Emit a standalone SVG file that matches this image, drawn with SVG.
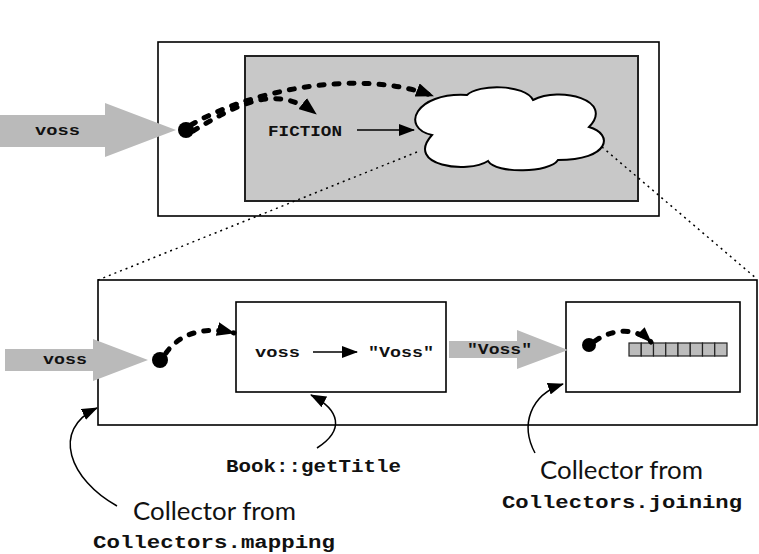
<svg xmlns="http://www.w3.org/2000/svg" width="759" height="554" viewBox="0 0 759 554">
<style>
.box{fill:#fff;stroke:#000;stroke-width:1.6}
.gbox{fill:#c8c8c8;stroke:#222;stroke-width:2}
.garrow{fill:#bababa}
.mono{font-family:"Liberation Mono","Courier New",monospace;font-weight:bold;fill:#111}
.sans{font-family:"Lato","Liberation Sans",sans-serif;fill:#111}
.dash{fill:none;stroke:#000;stroke-width:5;stroke-dasharray:5 10;stroke-linecap:round}
.thin{fill:none;stroke:#000;stroke-width:1.5}
.dot{stroke:#000;stroke-width:1.5;stroke-dasharray:2 4;fill:none}
.cell{fill:#bcbcbc;stroke:#222;stroke-width:1.2}
</style>
<defs>
<marker id="bigHead" markerUnits="userSpaceOnUse" markerWidth="20" markerHeight="14" refX="17" refY="7" orient="auto">
<path d="M0,0 L18,7 L0,14 z" fill="#000"/>
</marker>
<marker id="thinHead" markerUnits="userSpaceOnUse" markerWidth="16" markerHeight="12" refX="15" refY="6" orient="auto">
<path d="M0,0 L16,6 L0,12 z" fill="#000"/>
</marker>
</defs>
<rect width="759" height="554" fill="#fff"/>

<g id="top-outer"><rect class="box" x="158" y="42" width="501" height="174"/></g>
<g id="top-inner"><rect class="gbox" x="245" y="56" width="393" height="145"/></g>
<g id="cloud">
<path d="M432,135 C400,128 415,92 467,95 C478,84 525,84 533,100 C560,86 615,100 589,127 C614,134 610,160 558,160 C550,173 496,174 488,161 C468,174 404,166 432,135 Z" fill="#fff" stroke="#000" stroke-width="2"/>
</g>
<g id="top-voss">
<polygon class="garrow" points="0,115 105,115 105,103 176,130 105,157 105,147 0,147"/>
<text class="mono" x="35" y="135" font-size="15" textLength="45" lengthAdjust="spacingAndGlyphs">voss</text>
</g>
<g id="top-dot"><circle cx="186" cy="130" r="8" fill="#000"/></g>
<g id="fiction"><text class="mono" x="268" y="136" font-size="15" textLength="74" lengthAdjust="spacingAndGlyphs">FICTION</text></g>

<g id="bottom-outer"><rect class="box" x="98" y="280" width="659" height="145"/></g>
<g id="mapping-box"><rect class="box" x="236" y="302" width="210" height="90"/>
<text class="mono" x="255" y="357" font-size="15" textLength="45" lengthAdjust="spacingAndGlyphs">voss</text>
<text class="mono" x="368" y="357" font-size="15" textLength="66" lengthAdjust="spacingAndGlyphs">"Voss"</text>
</g>
<g id="joining-box"><rect class="box" x="566" y="302" width="174" height="90"/>
<circle cx="589" cy="345" r="7" fill="#000"/>
<g id="array">
<rect class="cell" x="629" y="343" width="12.25" height="13"/>
<rect class="cell" x="641.25" y="343" width="12.25" height="13"/>
<rect class="cell" x="653.5" y="343" width="12.25" height="13"/>
<rect class="cell" x="665.75" y="343" width="12.25" height="13"/>
<rect class="cell" x="678" y="343" width="12.25" height="13"/>
<rect class="cell" x="690.25" y="343" width="12.25" height="13"/>
<rect class="cell" x="702.5" y="343" width="12.25" height="13"/>
<rect class="cell" x="714.75" y="343" width="12.25" height="13"/>
</g>
</g>
<g id="bottom-voss">
<polygon class="garrow" points="5,349 93,349 93,339 148,360 93,381 93,371 5,371"/>
<text class="mono" x="43" y="364" font-size="15" textLength="44" lengthAdjust="spacingAndGlyphs">voss</text>
</g>
<g id="bottom-dot"><circle cx="160" cy="360" r="8" fill="#000"/></g>
<g id="voss-string">
<polygon class="garrow" points="449,341 517,341 517,330 568,350 517,369 517,358 449,358"/>
<text class="mono" x="467" y="354" font-size="15" textLength="65" lengthAdjust="spacingAndGlyphs">"Voss"</text>
</g>

<g id="labels">
<text class="mono" x="226" y="472" font-size="18" textLength="175" lengthAdjust="spacingAndGlyphs">Book::getTitle</text>
<text class="sans" x="133" y="520" font-size="25" textLength="163" lengthAdjust="spacingAndGlyphs">Collector from</text>
<text class="mono" x="93" y="548" font-size="18" textLength="242" lengthAdjust="spacingAndGlyphs">Collectors.mapping</text>
<text class="sans" x="540" y="479" font-size="25" textLength="163" lengthAdjust="spacingAndGlyphs">Collector from</text>
<text class="mono" x="502" y="508" font-size="18" textLength="240" lengthAdjust="spacingAndGlyphs">Collectors.joining</text>
</g>

<g id="connectors">
<path class="dash" d="M191,125 C250,90 360,68 433,96" marker-end="url(#bigHead)"/>
<path class="dash" d="M193,131 C235,106 275,82 316,114" marker-end="url(#bigHead)"/>
<line class="thin" x1="357" y1="130" x2="414" y2="130" marker-end="url(#thinHead)"/>
<path class="dot" d="M417,152 L98,280"/>
<path class="dot" d="M602,147 L757,279"/>
<path class="dash" d="M166,353 C180,333 205,326 234,333" marker-end="url(#bigHead)"/>
<line class="thin" x1="313" y1="352" x2="357" y2="352" marker-end="url(#thinHead)"/>
<path class="dash" stroke-width="4" d="M595,341 C610,330 635,326 651,342" marker-end="url(#thinHead)"/>
<path class="thin" d="M117,506 C70,480 50,430 97,408" marker-end="url(#thinHead)"/>
<path class="thin" d="M317,448 C345,430 340,410 311,395" marker-end="url(#thinHead)"/>
<path class="thin" d="M535,453 C520,425 530,395 563,384" marker-end="url(#thinHead)"/>
</g>
</svg>
